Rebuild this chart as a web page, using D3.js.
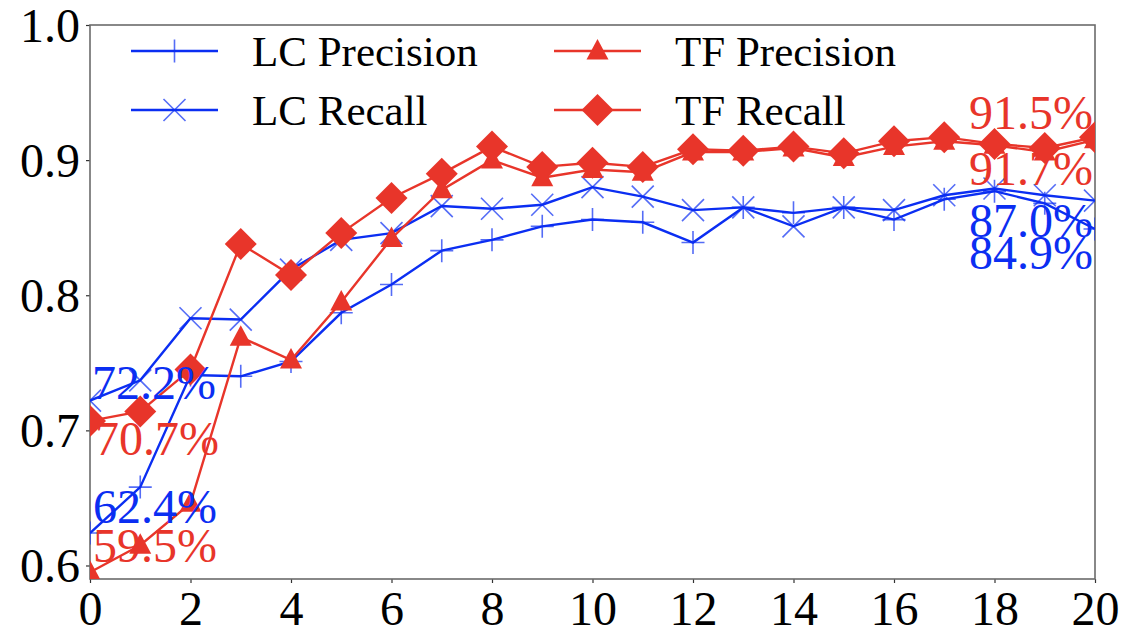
<!DOCTYPE html>
<html>
<head>
<meta charset="utf-8">
<script src="https://cdn.jsdelivr.net/npm/d3@7"></script>
<style>
  html, body { margin: 0; padding: 0; background: #fff; }
  svg text { font-family: "Liberation Serif", "Times New Roman", Times, "DejaVu Serif", "Noto Serif", serif; }
</style>
</head>
<body>
<svg id="chart" width="1125" height="635"></svg>
<script>
// epochs on the x axis
const steps = [0, 1, 2, 3, 4, 5, 6, 7, 8, 9, 10, 11, 12, 13, 14, 15, 16, 17, 18, 19, 20]

// series values
const lcPrecision = [0.624, 0.658, 0.741, 0.740, 0.751, 0.787, 0.808, 0.833, 0.841, 0.851, 0.856, 0.854, 0.839, 0.865, 0.861, 0.865, 0.856, 0.871, 0.877, 0.868, 0.849]
const lcRecall    = [0.722, 0.737, 0.783, 0.782, 0.819, 0.841, 0.846, 0.866, 0.864, 0.867, 0.880, 0.873, 0.863, 0.865, 0.851, 0.865, 0.863, 0.874, 0.879, 0.874, 0.870]
const tfPrecision = [0.595, 0.615, 0.646, 0.769, 0.752, 0.795, 0.842, 0.878, 0.900, 0.887, 0.893, 0.891, 0.906, 0.906, 0.909, 0.902, 0.910, 0.914, 0.911, 0.906, 0.915]
const tfRecall    = [0.707, 0.714, 0.745, 0.838, 0.815, 0.846, 0.872, 0.890, 0.910, 0.895, 0.898, 0.895, 0.908, 0.907, 0.910, 0.905, 0.914, 0.917, 0.912, 0.909, 0.917]

const seriesNames = ['LC Precision', 'LC Recall', 'TF Precision', 'TF Recall']

const xTicks = [0, 2, 4, 6, 8, 10, 12, 14, 16, 18, 20]
const yTicks = [0.6, 0.7, 0.8, 0.9, 1.0]

const blue = '#0b2ef2'
const red = '#e8352a'
const serif = '"Liberation Serif", "Times New Roman", Times, "DejaVu Serif", serif'

// style per series (marker shape, colour, label offsets in px)
const styles = [
    { values: lcPrecision, colour: blue, marker: 'plus',     start: [3, -10],  end: [-2, 40] },
    { values: lcRecall,    colour: blue, marker: 'cross',    start: [2, -2],   end: [-2, 36] },
    { values: tfPrecision, colour: red,  marker: 'triangle', start: [3, -10],  end: [-2, -11] },
    { values: tfRecall,    colour: red,  marker: 'diamond',  start: [5, 34],   end: [-2, 48] }
]

const margin = { top: 25, right: 30, bottom: 56, left: 90 }
const width = 1125
const height = 635

const svg = d3.select('#chart')

const x = d3.scaleLinear()
    .domain([0, 20])
    .range([margin.left, width - margin.right])

const y = d3.scaleLinear()
    .domain([0.59, 1.0])
    .range([height - margin.bottom, margin.top])

svg.append('clipPath')
    .attr('id', 'plot-clip')
  .append('rect')
    .attr('x', x(0))
    .attr('y', y(1.0))
    .attr('width', x(20) - x(0))
    .attr('height', y(0.59) - y(1.0))

function drawMarker(g, type, colour) {

    if (type === 'plus') {
        g.append('path')
            .attr('d', 'M-11.5,0H11.5M0,-11.5V11.5')
            .attr('stroke', colour)
            .attr('stroke-opacity', 0.7)
            .attr('stroke-width', 1.6)
            .attr('fill', 'none')
    } else if (type === 'cross') {
        g.append('path')
            .attr('d', 'M-11,-11L11,11M-11,11L11,-11')
            .attr('stroke', colour)
            .attr('stroke-opacity', 0.7)
            .attr('stroke-width', 1.6)
            .attr('fill', 'none')
    } else if (type === 'triangle') {
        g.append('path')
            .attr('d', 'M0,-12L11,8.5L-11,8.5Z')
            .attr('fill', colour)
    } else {
        g.append('path')
            .attr('d', 'M0,-16L16,0L0,16L-16,0Z')
            .attr('fill', colour)
    }

}

// axes
const xAxis = d3.axisBottom(x).tickValues(xTicks).tickSize(4).tickPadding(8).tickFormat(d3.format('d'))
const yAxis = d3.axisLeft(y).tickValues(yTicks).tickSize(4).tickPadding(6).tickFormat(d3.format('.1f'))

const gx = svg.append('g')
    .attr('transform', `translate(0,${y(0.59)})`)
    .call(xAxis)

const gy = svg.append('g')
    .attr('transform', `translate(${x(0)},0)`)
    .call(yAxis)

for (const g of [gx, gy]) {
    g.attr('font-family', null)
    g.select('.domain').remove()
    g.selectAll('line').attr('stroke', '#333').attr('stroke-width', 1.2)
    g.selectAll('text')
        .style('font-family', serif)
        .attr('font-size', '48px')
        .attr('fill', '#000')
}
gx.selectAll('text').attr('dy', '0.71em')
gy.selectAll('text').attr('dy', '0.34em')

// frame
svg.append('rect')
    .attr('x', x(0))
    .attr('y', y(1.0))
    .attr('width', x(20) - x(0))
    .attr('height', y(0.59) - y(1.0))
    .attr('fill', 'none')
    .attr('stroke', '#6b6b6b')
    .attr('stroke-width', 1.6)

const plot = svg.append('g').attr('clip-path', 'url(#plot-clip)')

const line = d3.line()
    .x((d, i) => x(steps[i]))
    .y(d => y(d))

for (const s of styles) {

    plot.append('path')
        .datum(s.values)
        .attr('d', line)
        .attr('fill', 'none')
        .attr('stroke', s.colour)
        .attr('stroke-width', 2.4)

    s.values.forEach(function (v, i) {
        const g = plot.append('g').attr('transform', `translate(${x(steps[i])},${y(v)})`)
        drawMarker(g, s.marker, s.colour)
    })

}

// start / end value labels
const pct = d3.format('.1%')

for (const s of styles) {

    const first = s.values[0]
    const last = s.values[s.values.length - 1]

    svg.append('text')
        .attr('x', x(steps[0]) + s.start[0])
        .attr('y', y(first) + s.start[1])
        .style('font-family', serif)
        .attr('font-size', '48px')
        .attr('fill', s.colour)
        .text(pct(first))

    svg.append('text')
        .attr('x', x(steps[steps.length - 1]) + s.end[0])
        .attr('y', y(last) + s.end[1])
        .attr('text-anchor', 'end')
        .style('font-family', serif)
        .attr('font-size', '48px')
        .attr('fill', s.colour)
        .text(pct(last))

}

// legend, two columns
const legendCols = [131, 554]
const legendRows = [51, 110]
const order = [0, 2, 1, 3]

order.forEach(function (k, j) {

    const s = styles[k]
    const lx = legendCols[j % 2]
    const ly = legendRows[Math.floor(j / 2)]

    const g = svg.append('g')

    g.append('line')
        .attr('x1', lx)
        .attr('x2', lx + 87)
        .attr('y1', ly)
        .attr('y2', ly)
        .attr('stroke', s.colour)
        .attr('stroke-width', 2.4)

    drawMarker(g.append('g').attr('transform', `translate(${lx + 43.5},${ly})`), s.marker, s.colour)

    g.append('text')
        .attr('x', lx + 121)
        .attr('y', ly + 15)
        .style('font-family', serif)
        .attr('font-size', '43px')
        .attr('fill', '#000')
        .text(seriesNames[k])

})
</script>
</body>
</html>
